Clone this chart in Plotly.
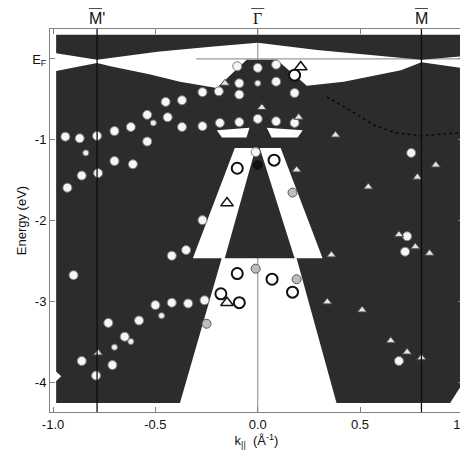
import plotly.graph_objects as go

# ---------------- data (k in 1/Angstrom, E in eV) ----------------
# projected bulk band regions
UPPER_BAND_K = [-0.985, -0.985, -0.785, -0.49, -0.23, 0.0, 0.29, 0.61, 0.80, 0.99, 0.99]
UPPER_BAND_E = [0.30, 0.07, -0.01, 0.09, 0.15, 0.20, 0.11, 0.03, -0.01, 0.03, 0.30]

LOWER_BAND_K = [-0.985, -0.785, -0.72, -0.53, -0.38, -0.20, -0.054, 0.093, 0.24, 0.42, 0.70, 0.80, 0.99,
                0.99, 0.94,
                0.385, 0.19, 0.317, 0.112, 0.01, 0.18, -0.161, -0.01, -0.112, -0.317, -0.176, -0.38,
                -0.985]
LOWER_BAND_E = [-0.15, -0.05, -0.09, -0.19, -0.28, -0.36, -0.01, -0.01, -0.33, -0.28, -0.14, -0.04, -0.11,
                -4.05, -4.25,
                -4.25, -2.46, -2.46, -1.10, -1.10, -2.46, -2.46, -1.10, -1.10, -2.46, -2.46, -4.25,
                -4.25]

GAP_A_K = [-0.20, -0.04, -0.055, -0.175]
GAP_A_E = [-0.88, -0.85, -0.97, -0.97]
GAP_B_K = [0.044, 0.22, 0.195, 0.068]
GAP_B_E = [-0.85, -0.88, -0.97, -0.97]
NOTCH_K = [-0.99, -0.96, -0.99]
NOTCH_E = [-3.85, -3.92, -3.99]

DOTTED_K = [0.337, 0.449, 0.566, 0.668, 0.80, 0.985]
DOTTED_E = [-0.47, -0.63, -0.815, -0.91, -0.95, -0.91]

SYM_K = [-0.785, 0.0, 0.80]
SYM_LABELS = ["M'", "\u0393", "M"]
SYM_FONTS = ["Liberation Sans", "Liberation Serif", "Liberation Sans"]
SYM_BAR_OFFSET = [-0.008, 0.0, 0.0]

# measured states
FILLED_K = [-0.94, -0.87, -0.785, -0.70, -0.62, -0.54, -0.45, -0.37, -0.44, -0.37, -0.27, -0.185,
            -0.54, -0.61, -0.70, -0.78, -0.86, -0.93, -0.27, -0.19, -0.27, -0.35, -0.42, -0.90,
            -0.50, -0.42, -0.34, -0.26, -0.58, -0.73, -0.65, -0.71, -0.86, -0.79,
            -0.10, 0.00, 0.09, -0.09, 0.09, -0.09, 0.18, -0.09, 0.00, 0.09, 0.18, -0.01,
            0.75, 0.73, 0.72, 0.69]
FILLED_E = [-0.96, -0.98, -0.95, -0.89, -0.84, -0.69, -0.53, -0.51, -0.72, -0.84, -0.83, -0.79,
            -1.02, -1.30, -1.26, -1.41, -1.44, -1.59, -0.41, -0.40, -1.99, -2.36, -2.43, -2.67,
            -3.04, -3.01, -3.02, -2.98, -3.23, -3.26, -3.43, -3.78, -3.73, -3.91,
            -0.09, -0.11, -0.07, -0.30, -0.28, -0.44, -0.42, -0.78, -0.74, -0.77, -0.79, -1.15,
            -1.16, -2.19, -2.38, -3.73]

SMALL_K = [0.00, -0.84, -0.51, -0.47, -0.62, -0.70]
SMALL_E = [-0.30, -1.16, -0.79, -3.17, -3.49, -3.56]

GRAY_K = [0.17, -0.01, 0.19, -0.25]
GRAY_E = [-1.65, -2.59, -2.72, -3.27]

OPEN_K = [0.18, 0.08, -0.10, -0.10, 0.07, 0.17, -0.18, -0.09]
OPEN_E = [-0.20, -1.25, -1.35, -2.65, -2.72, -2.88, -2.90, -3.01]

TRI_K = [0.02, 0.20, 0.38, 0.19, 0.87, 0.78, 0.54, 0.69, 0.77, 0.84, 0.36, 0.34, 0.51, 0.65, 0.73, 0.80,
         -0.78, -0.16]
TRI_E = [-0.60, -0.72, -0.94, -1.37, -1.31, -1.46, -1.58, -2.17, -2.32, -2.40, -2.42, -3.00, -3.10,
         -3.48, -3.62, -3.69, -3.63, -0.30]

TRI_OPEN_K = [-0.15, 0.21, -0.15]
TRI_OPEN_E = [-1.78, -0.10, -3.01]

DARK_K = [0.00]
DARK_E = [-1.31]

X_TICKS = [-1.0, -0.5, 0.0, 0.5, 1.0]
X_TICK_TEXT = ["-1.0", "-0.5", "0.0", "0.5", "1.0"]
Y_TICKS = [0, -1, -2, -3, -4]
Y_TICK_TEXT = ["E<sub>F</sub>", "-1", "-2", "-3", "-4"]

X_RANGE = [-1.015, 1.003]
Y_RANGE = [-4.36, 0.37]

DARK = "#2c2c2c"

fig = go.Figure()

def poly(k, e, color):
    fig.add_trace(go.Scatter(x=k + [k[0]], y=e + [e[0]], mode="lines", fill="toself",
                             fillcolor=color, line=dict(width=0, color=color),
                             hoverinfo="skip", showlegend=False))

poly(UPPER_BAND_K, UPPER_BAND_E, DARK)
poly(LOWER_BAND_K, LOWER_BAND_E, DARK)
poly(GAP_A_K, GAP_A_E, "white")
poly(GAP_B_K, GAP_B_E, "white")
poly(NOTCH_K, NOTCH_E, "white")

fig.add_trace(go.Scatter(x=DOTTED_K, y=DOTTED_E, mode="lines",
                         line=dict(color="#0a0a0a", width=1.5, dash="dot"),
                         hoverinfo="skip", showlegend=False))

# symmetry-point lines M' and M (dark, above fills)
for kk in (SYM_K[0], SYM_K[2]):
    fig.add_shape(type="line", x0=kk, x1=kk, y0=Y_RANGE[0], y1=Y_RANGE[1], xref="x", yref="y",
                  line=dict(color="#0d0d0d", width=1.3), layer="above")
# Gamma line (gray, below fills)
fig.add_shape(type="line", x0=SYM_K[1], x1=SYM_K[1], y0=Y_RANGE[0], y1=Y_RANGE[1], xref="x", yref="y",
              line=dict(color="#9a9a9a", width=1.2), layer="below")
# Fermi level line
fig.add_shape(type="line", x0=-0.30, x1=0.99, y0=0, y1=0, xref="x", yref="y",
              line=dict(color="#9a9a9a", width=1.2), layer="below")

def pts(k, e, symbol, size, fill, lc, lw):
    fig.add_trace(go.Scatter(x=k, y=e, mode="markers",
                             marker=dict(symbol=symbol, size=size, color=fill,
                                         line=dict(color=lc, width=lw)),
                             hoverinfo="skip", showlegend=False))

pts(FILLED_K, FILLED_E, "circle", 9, "#f6f6f6", "#7a7a7a", 1)
pts(SMALL_K, SMALL_E, "circle", 6, "#eeeeee", "#777777", 1)
pts(GRAY_K, GRAY_E, "circle", 9, "#bdbdbd", "#5a5a5a", 1)
pts(OPEN_K, OPEN_E, "circle", 11, "white", "#111111", 2)
pts(TRI_K, TRI_E, "triangle-up", 8, "#e4e4e4", "#4a4a4a", 1)
pts(TRI_OPEN_K, TRI_OPEN_E, "triangle-up", 11, "white", "#111111", 1.5)
pts(DARK_K, DARK_E, "circle", 9, "#111111", "#111111", 1)

# symmetry point labels with overbars (bars in paper coordinates so they are not clipped)
PLOT_H = 383
def to_paper_x(k):
    return (k - X_RANGE[0]) / (X_RANGE[1] - X_RANGE[0])

for kk, lab, fam, off in zip(SYM_K, SYM_LABELS, SYM_FONTS, SYM_BAR_OFFSET):
    fig.add_annotation(x=kk, y=1.0, xref="x", yref="paper", text=lab, showarrow=False,
                       yanchor="bottom", yshift=0, font=dict(size=16, family=fam, color="#111"))
    fig.add_shape(type="line", x0=to_paper_x(kk + off - 0.032), x1=to_paper_x(kk + off + 0.032),
                  y0=1 + 21 / PLOT_H, y1=1 + 21 / PLOT_H,
                  xref="paper", yref="paper", line=dict(color="#111", width=1.5))

axis_common = dict(showgrid=False, zeroline=False, showline=True, linecolor="#808080", linewidth=1,
                   mirror="ticks", ticks="inside", ticklen=5, tickcolor="#808080",
                   tickfont=dict(size=13, color="#111", family="Liberation Sans"))

# page body has an 8px margin: size/margins compensate so the plot area lands at (50..463, 29..412)
fig.update_layout(
    width=460, height=455,
    margin=dict(l=42, r=5, t=21, b=51),
    paper_bgcolor="white", plot_bgcolor="white",
    xaxis=dict(range=X_RANGE, tickvals=X_TICKS, ticktext=X_TICK_TEXT, ticklabeloverflow="allow",
               automargin=False,
               title=dict(text="k<sub>||</sub>  (Å<sup>-1</sup>)", standoff=2,
                          font=dict(size=13, color="#111", family="Liberation Sans")),
               **axis_common),
    yaxis=dict(range=Y_RANGE, tickvals=Y_TICKS, ticktext=Y_TICK_TEXT,
               title=dict(text="Energy (eV)", standoff=2,
                          font=dict(size=13, color="#111", family="Liberation Sans")),
               **axis_common),
)

fig.write_html("out.html")
